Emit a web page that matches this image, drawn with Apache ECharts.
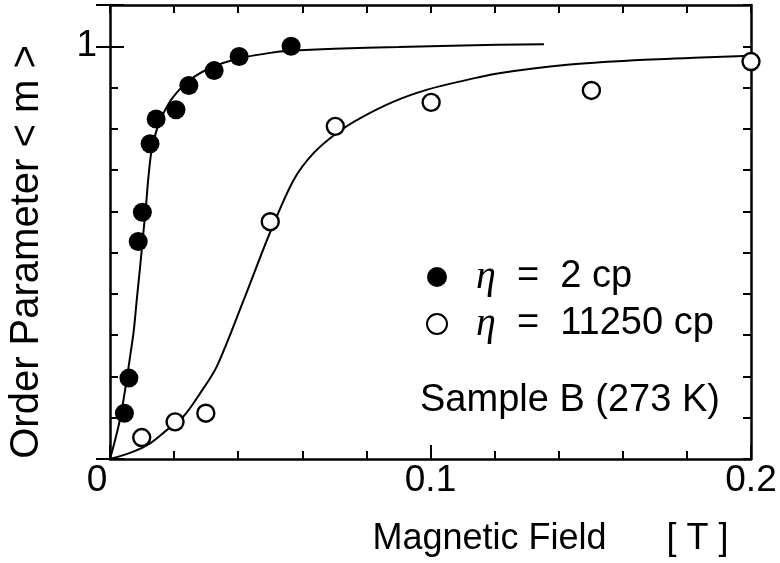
<!DOCTYPE html>
<html>
<head>
<meta charset="utf-8">
<script src="https://cdn.jsdelivr.net/npm/echarts@6/dist/echarts.min.js"></script>
<style>html,body{margin:0;padding:0;background:#fff}#c{width:780px;height:563px}</style>
</head>
<body>
<div id="c"></div>
<script>
// Data
const filledPoints = [[0.0045,0.111],[0.0059,0.196],[0.0088,0.527],[0.0101,0.598],[0.0125,0.764],[0.0144,0.824],[0.0206,0.846],[0.0246,0.905],[0.0325,0.941],[0.0403,0.975],[0.0565,1.0]];
const openPoints = [[0.0099,0.052],[0.0203,0.090],[0.0299,0.111],[0.0500,0.575],[0.0703,0.806],[0.1002,0.864],[0.1502,0.893],[0.2000,0.963]];
const filledCurve = [[0,0],[0.0016,0.046],[0.0031,0.095],[0.0042,0.143],[0.0052,0.192],[0.0063,0.25],[0.0074,0.31],[0.0084,0.39],[0.0094,0.466],[0.0104,0.547],[0.0113,0.62],[0.012,0.684],[0.013,0.749],[0.0146,0.798],[0.0167,0.838],[0.0198,0.878],[0.025,0.919],[0.0323,0.951],[0.0406,0.971],[0.05,0.984],[0.0563,0.989],[0.07,0.994],[0.09,0.998],[0.11,1.002],[0.1354,1.005]];
const openCurve = [[0,0],[0.0073,0.018],[0.0125,0.038],[0.0177,0.07],[0.0229,0.103],[0.0281,0.159],[0.0333,0.224],[0.0417,0.385],[0.05,0.55],[0.0573,0.676],[0.0635,0.741],[0.0708,0.79],[0.0781,0.826],[0.0885,0.866],[0.099,0.895],[0.1094,0.915],[0.1219,0.935],[0.1427,0.955],[0.1635,0.966],[0.1844,0.973],[0.2,0.977]];
const seriesNames = ['η = 2 cp', 'η = 11250 cp'];
const xTickLabels = ['0', '0.1', '0.2'];
const yTickLabels = ['1'];
const xTitle = 'Magnetic Field      [ T ]';
const yTitle = 'Order Parameter < m >';
const sampleNote = 'Sample B (273 K)';

const FONT = 'Liberation Sans';
const FS = 36;
const chart = echarts.init(document.getElementById('c'), null, {renderer: 'canvas'});
const axisLineStyle = {color: '#000', width: 2.5};
const tickStyle = {color: '#000', width: 2};

function yBase(pos, withLabel) {
  return {
    type: 'value', position: pos, min: 0, max: 1.1, interval: 0.1,
    axisLine: {show: true, onZero: false, lineStyle: axisLineStyle},
    axisTick: {show: true, inside: true, length: 8, lineStyle: tickStyle},
    splitLine: {show: false},
    axisLabel: withLabel ? {
      show: true, margin: 13, fontFamily: FONT, fontSize: FS + 1, color: '#000',
      formatter: v => (yTickLabels.includes(String(Math.round(v * 10) / 10)) ? String(Math.round(v * 10) / 10) : '')
    } : {show: false}
  };
}
function yMajor(pos) {
  return {
    type: 'value', position: pos, min: 0, max: 1.1, interval: 1,
    axisLine: {show: false},
    axisTick: {show: true, inside: true, length: 14, lineStyle: tickStyle},
    splitLine: {show: false}, axisLabel: {show: false}
  };
}

const option = {
  animation: false,
  backgroundColor: '#fff',
  grid: {left: 110, right: 29, top: 5, bottom: 104, containLabel: false, outerBoundsMode: 'none'},
  xAxis: [
    {
      type: 'value', position: 'bottom', min: 0, max: 0.2, interval: 0.1,
      axisLine: {show: true, onZero: false, lineStyle: axisLineStyle},
      axisTick: {show: true, inside: true, length: 14, lineStyle: tickStyle},
      minorTick: {show: true, splitNumber: 5, length: 8, lineStyle: tickStyle},
      splitLine: {show: false}, minorSplitLine: {show: false},
      axisLabel: {
        show: true, margin: 3, fontFamily: FONT, fontSize: FS + 1, color: '#000',
        formatter: v => {
          const s = String(Math.round(v * 10) / 10);
          if (!xTickLabels.includes(s)) return '';
          return s === '0' ? '{z|0}' : s;
        },
        rich: {z: {fontFamily: FONT, fontSize: FS + 1, color: '#000', padding: [0, 26, 0, 0]}}
      },
      name: xTitle, nameLocation: 'middle', nameGap: 62,
      nameTextStyle: {fontFamily: FONT, fontSize: FS, color: '#000', padding: [0, 0, 0, 240]}
    },
    {
      type: 'value', position: 'top', min: 0, max: 0.2, interval: 0.02,
      axisLine: {show: true, onZero: false, lineStyle: axisLineStyle},
      axisTick: {show: true, inside: true, length: 8, lineStyle: tickStyle},
      splitLine: {show: false}, axisLabel: {show: false}
    }
  ],
  yAxis: [
    Object.assign(yBase('left', true), {
      name: yTitle, nameLocation: 'middle', nameGap: 63,
      nameTextStyle: {fontFamily: FONT, fontSize: 40, color: '#000', padding: [0, 40, 0, 0]}
    }),
    yBase('right', false),
    yMajor('left'),
    yMajor('right')
  ],
  legend: {
    show: true, orient: 'vertical', left: 421, top: 252,
    data: seriesNames, itemWidth: 20, itemHeight: 20, itemGap: 7,
    selectedMode: false,
    formatter: n => n.replace('η', '{i|η}').replace(' = ', '  =  '),
    textStyle: {
      fontFamily: FONT, fontSize: 38, color: '#000', padding: [0, 0, 0, 24],
      rich: {i: {fontFamily: 'Liberation Serif', fontStyle: 'italic', fontSize: 40, color: '#000'}}
    }
  },
  graphic: [{
    type: 'text', left: 420, top: 382,
    style: {text: sampleNote, fontFamily: FONT, fontSize: 38, fill: '#000'}
  }],
  series: [
    {type: 'line', data: filledCurve, xAxisIndex: 0, yAxisIndex: 0, showSymbol: false, symbol: 'none', smooth: 0.3,
     lineStyle: {color: '#000', width: 2}, z: 2, silent: true},
    {type: 'line', data: openCurve, xAxisIndex: 0, yAxisIndex: 0, showSymbol: false, symbol: 'none', smooth: 0.3,
     lineStyle: {color: '#000', width: 2}, z: 2, silent: true},
    {name: seriesNames[0], type: 'scatter', data: filledPoints, xAxisIndex: 0, yAxisIndex: 0, symbol: 'circle', symbolSize: 19,
     itemStyle: {color: '#000', borderColor: '#000', borderWidth: 0, opacity: 1}, clip: false, z: 5},
    {name: seriesNames[1], type: 'scatter', data: openPoints, xAxisIndex: 0, yAxisIndex: 0, symbol: 'circle', symbolSize: 17,
     itemStyle: {color: '#fff', borderColor: '#000', borderWidth: 2.4, opacity: 1}, clip: false, z: 5}
  ]
};
chart.setOption(option);
</script>
</body>
</html>
